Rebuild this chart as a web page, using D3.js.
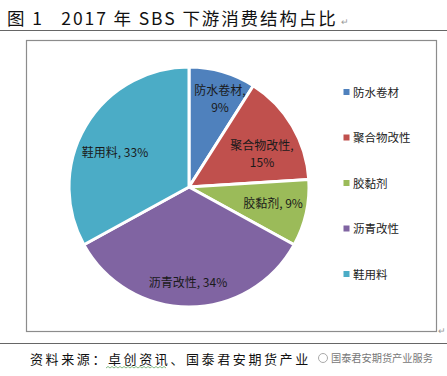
<!DOCTYPE html>
<html><head><meta charset="utf-8">
<script src="https://cdn.jsdelivr.net/npm/d3@7"></script>
<style>
html,body{margin:0;padding:0;background:#fff;}
svg{display:block;}
text{white-space:pre;}
</style></head>
<body>
<svg id="c" width="447" height="376"></svg>
<script>
const categories = ["防水卷材","聚合物改性","胶黏剂","沥青改性","鞋用料"];
const values = [9,15,9,34,33];
const colors = ["#4F81BD","#C0504D","#9BBB59","#8064A2","#4BACC6"];
const titleText = "图 1   2017 年 SBS 下游消费结构占比";
const sourceText = "资料来源：卓创资讯、国泰君安期货产业";
const watermarkText = "国泰君安期货产业服务";

const svg = d3.select("#c");
const font = "'Noto Sans CJK SC', 'Liberation Sans', sans-serif";

// Title
const title = svg.append("text").attr("x",7).attr("y",25).attr("font-family",font)
  .attr("font-size",17.5).attr("letter-spacing",1.9).attr("fill","#111").text(titleText);
const tw = title.node().getComputedTextLength();
svg.append("text").attr("x",7+tw+3).attr("y",25).attr("font-family",font)
  .attr("font-size",9).attr("fill","#999").text("↵");
svg.append("line").attr("x1",0).attr("x2",447).attr("y1",30.5).attr("y2",30.5)
  .attr("stroke","#666").attr("stroke-width",1);

// Chart frame
svg.append("rect").attr("x",26.5).attr("y",40.5).attr("width",410).attr("height",291)
  .attr("fill","#fff").attr("stroke","#8c8c8c").attr("stroke-width",1.2);
svg.append("text").attr("x",438).attr("y",334).attr("font-family",font)
  .attr("font-size",9).attr("fill","#999").text("↵");

// Pie
const cx = 189, cy = 187, R = 120;
const pie = d3.pie().sort(null).value(d=>d)(values);
const arc = d3.arc().innerRadius(0).outerRadius(R);
const g = svg.append("g").attr("transform",`translate(${cx},${cy})`);
g.selectAll("path").data(pie).join("path")
  .attr("d",arc).attr("fill",(d,i)=>colors[i])
  .attr("stroke","#fff").attr("stroke-width",3).attr("stroke-linejoin","round");

// Data labels (offsets relative to center)
const labelPos = [
  {dx:31, dy:-88, lines:[categories[0]+",", values[0]+"%"]},
  {dx:73, dy:-33, lines:[categories[1]+",", values[1]+"%"]},
  {dx:84, dy:16,  lines:[categories[2]+", "+values[2]+"%"]},
  {dx:-1, dy:95,  lines:[categories[3]+", "+values[3]+"%"]},
  {dx:-74,dy:-35, lines:[categories[4]+", "+values[4]+"%"]}
];
labelPos.forEach(p=>{
  const n = p.lines.length;
  p.lines.forEach((l,i)=>{
    g.append("text").attr("text-anchor","middle").attr("font-family",font)
      .attr("font-size",12).attr("fill","#1a1a1a")
      .attr("x",p.dx).attr("y",p.dy + (i-(n-1)/2)*17 + 4.5).text(l);
  });
});

// Legend
const legY = d3.scalePoint().domain(categories).range([92,274]);
const leg = svg.append("g");
categories.forEach((c,i)=>{
  leg.append("rect").attr("x",343.5).attr("y",legY(c)-3).attr("width",6).attr("height",6)
    .attr("fill",colors[i]);
  leg.append("text").attr("x",353).attr("y",legY(c)+4.5).attr("font-family",font)
    .attr("font-size",11.5).attr("fill","#222").text(c);
});

// Bottom rule & source
svg.append("line").attr("x1",0).attr("x2",447).attr("y1",343.5).attr("y2",343.5)
  .attr("stroke","#666").attr("stroke-width",1);
svg.append("text").attr("x",30).attr("y",364).attr("font-family",font)
  .attr("font-size",13).attr("fill","#111").attr("letter-spacing",2.6).text(sourceText);
// spellcheck squiggle under 卓创资讯
const sq = d3.path();
sq.moveTo(106,368);
for(let x=106;x<164;x+=4){ sq.lineTo(x+2,366.5); sq.lineTo(x+4,368); }
svg.append("path").attr("d",sq.toString()).attr("fill","none").attr("stroke","#6a6").attr("stroke-width",0.8);
// watermark
svg.append("circle").attr("cx",323).attr("cy",358).attr("r",4.5).attr("fill","none").attr("stroke","#aaa");
svg.append("text").attr("x",331).attr("y",362).attr("font-family",font)
  .attr("font-size",10.2).attr("fill","#777").text(watermarkText);
</script>
</body></html>
